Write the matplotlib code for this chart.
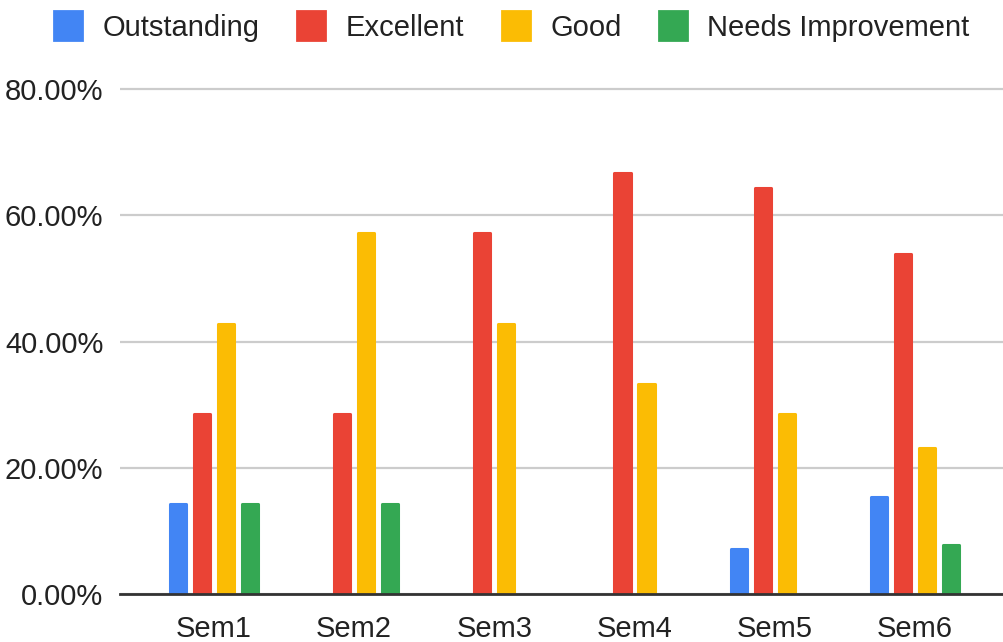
import matplotlib

matplotlib.use("Agg")
import matplotlib.pyplot as plt
import numpy as np
from matplotlib.patches import Patch
from matplotlib.ticker import PercentFormatter

# values (percent)
semesters = ["Sem1", "Sem2", "Sem3", "Sem4", "Sem5", "Sem6"]
outstanding = [14.29, 0.0, 0.0, 0.0, 7.14, 15.38]
excellent = [28.57, 28.57, 57.14, 66.67, 64.29, 53.85]
good = [42.86, 57.14, 42.86, 33.33, 28.57, 23.08]
needs_improvement = [14.29, 14.29, 0.0, 0.0, 0.0, 7.69]

series = [
    ("Outstanding", outstanding, "#4285F4"),
    ("Excellent", excellent, "#EA4335"),
    ("Good", good, "#FBBC04"),
    ("Needs Improvement", needs_improvement, "#34A853"),
]

plt.rcParams["font.family"] = ["Liberation Sans", "DejaVu Sans"]

fig = plt.figure(figsize=(10.04, 6.42), dpi=100)
ax = fig.add_axes([0.1195, 0.0748, 0.8805, 0.806])

x = np.arange(len(semesters))
step = 0.171
width = 0.115
for i, (name, vals, color) in enumerate(series):
    vals = np.array(vals)
    mask = vals > 0
    ax.bar(x[mask] + (i - 1.5) * step, vals[mask], width=width, color=color,
           edgecolor=color, linewidth=2.2, joinstyle="round", zorder=2)

ax.set_xlim(-0.67, 5.635)
ax.set_ylim(0, 82)
ax.set_yticks([0, 20, 40, 60, 80])
ax.yaxis.set_major_formatter(PercentFormatter(xmax=100, decimals=2))
ax.set_xticks(x)
ax.set_xticklabels(semesters)
ax.tick_params(axis="both", length=0, labelsize=21, colors="#222222")
ax.tick_params(axis="y", pad=12)
ax.tick_params(axis="x", pad=15)

ax.yaxis.grid(True, color="#cccccc", linewidth=1.6, zorder=0)
ax.set_axisbelow(True)
for side in ["top", "right", "left"]:
    ax.spines[side].set_visible(False)
ax.spines["bottom"].set_color("#333333")
ax.spines["bottom"].set_linewidth(2)
ax.spines["bottom"].set_zorder(3)

handles = [Patch(facecolor=c, edgecolor=c, linewidth=2, joinstyle="round", label=n)
           for n, _, c in series]
fig.legend(handles=handles, loc="upper center", bbox_to_anchor=(0.51, 1.023), ncol=4,
           frameon=False, fontsize=21, handlelength=0.95, handleheight=1.15,
           handletextpad=0.7, columnspacing=1.3, labelcolor="#222222")

fig.savefig("out.png", dpi=100, facecolor="white")
